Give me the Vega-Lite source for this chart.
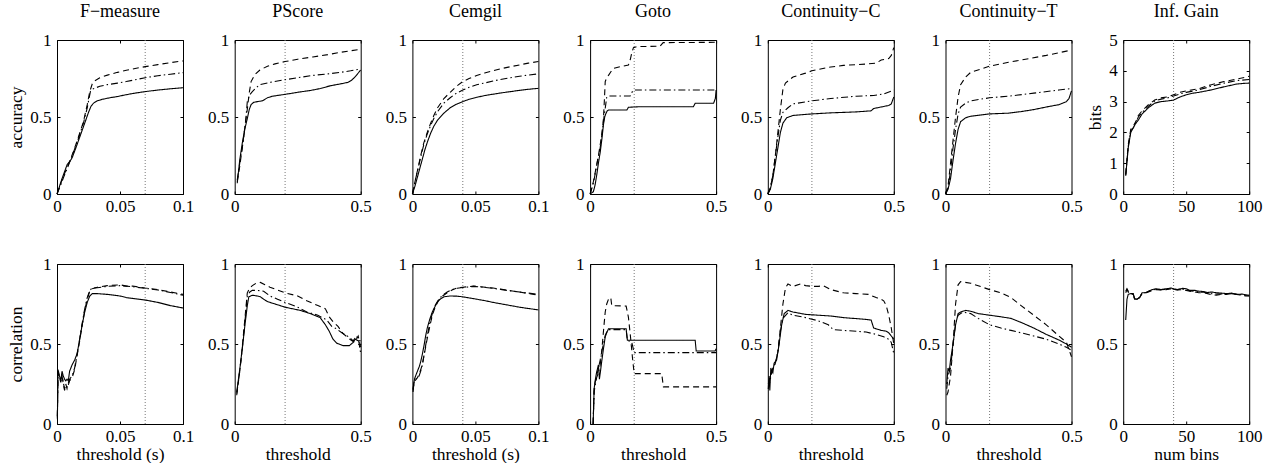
{
"$schema":"https://vega.github.io/schema/vega-lite/v6.json",
"padding":{"left":7,"top":2,"right":5,"bottom":0},
"config":{"font":"Liberation Serif","view":{"stroke":"black","strokeWidth":1},
"axis":{"domain":false,"grid":false,"tickColor":"black","tickSize":-3,"tickWidth":1,"labelFont":"Liberation Serif","labelFontSize":17,"labelColor":"black","labelFlush":false,"labelOverlap":false,"titleFont":"Liberation Serif","titleFontSize":17.5,"titleFontWeight":"normal","titleColor":"black"},
"axisX":{"labelPadding":7,"titlePadding":1},"axisY":{"labelPadding":9,"titlePadding":4},
"title":{"font":"Liberation Serif","fontSize":18,"fontWeight":"normal","color":"black","offset":10}},
"datasets":{"curves":[
{"panel":"fm_acc","series":"s1","x":0,"y":0},{"panel":"fm_acc","series":"s1","x":0.004,"y":0.1},{"panel":"fm_acc","series":"s1","x":0.008,"y":0.19},{"panel":"fm_acc","series":"s1","x":0.01,"y":0.21},{"panel":"fm_acc","series":"s1","x":0.012,"y":0.235},{"panel":"fm_acc","series":"s1","x":0.015,"y":0.3},{"panel":"fm_acc","series":"s1","x":0.0185,"y":0.38},{"panel":"fm_acc","series":"s1","x":0.022,"y":0.46},{"panel":"fm_acc","series":"s1","x":0.025,"y":0.53},{"panel":"fm_acc","series":"s1","x":0.027,"y":0.57},{"panel":"fm_acc","series":"s1","x":0.029,"y":0.59},{"panel":"fm_acc","series":"s1","x":0.032,"y":0.605},{"panel":"fm_acc","series":"s1","x":0.036,"y":0.615},{"panel":"fm_acc","series":"s1","x":0.042,"y":0.625},{"panel":"fm_acc","series":"s1","x":0.048,"y":0.633},{"panel":"fm_acc","series":"s1","x":0.055,"y":0.645},{"panel":"fm_acc","series":"s1","x":0.062,"y":0.655},{"panel":"fm_acc","series":"s1","x":0.07,"y":0.665},{"panel":"fm_acc","series":"s1","x":0.08,"y":0.675},{"panel":"fm_acc","series":"s1","x":0.09,"y":0.683},{"panel":"fm_acc","series":"s1","x":0.1,"y":0.69},
{"panel":"fm_acc","series":"s2","x":0,"y":0},{"panel":"fm_acc","series":"s2","x":0.003,"y":0.07},{"panel":"fm_acc","series":"s2","x":0.0053,"y":0.12},{"panel":"fm_acc","series":"s2","x":0.009,"y":0.19},{"panel":"fm_acc","series":"s2","x":0.013,"y":0.275},{"panel":"fm_acc","series":"s2","x":0.017,"y":0.37},{"panel":"fm_acc","series":"s2","x":0.021,"y":0.47},{"panel":"fm_acc","series":"s2","x":0.024,"y":0.58},{"panel":"fm_acc","series":"s2","x":0.026,"y":0.665},{"panel":"fm_acc","series":"s2","x":0.028,"y":0.715},{"panel":"fm_acc","series":"s2","x":0.03,"y":0.735},{"panel":"fm_acc","series":"s2","x":0.034,"y":0.755},{"panel":"fm_acc","series":"s2","x":0.04,"y":0.772},{"panel":"fm_acc","series":"s2","x":0.048,"y":0.79},{"panel":"fm_acc","series":"s2","x":0.055,"y":0.803},{"panel":"fm_acc","series":"s2","x":0.062,"y":0.815},{"panel":"fm_acc","series":"s2","x":0.07,"y":0.827},{"panel":"fm_acc","series":"s2","x":0.08,"y":0.84},{"panel":"fm_acc","series":"s2","x":0.09,"y":0.853},{"panel":"fm_acc","series":"s2","x":0.1,"y":0.864},
{"panel":"fm_acc","series":"s3","x":0,"y":0},{"panel":"fm_acc","series":"s3","x":0.003,"y":0.06},{"panel":"fm_acc","series":"s3","x":0.0053,"y":0.11},{"panel":"fm_acc","series":"s3","x":0.009,"y":0.185},{"panel":"fm_acc","series":"s3","x":0.013,"y":0.27},{"panel":"fm_acc","series":"s3","x":0.017,"y":0.36},{"panel":"fm_acc","series":"s3","x":0.021,"y":0.46},{"panel":"fm_acc","series":"s3","x":0.024,"y":0.56},{"panel":"fm_acc","series":"s3","x":0.0265,"y":0.665},{"panel":"fm_acc","series":"s3","x":0.028,"y":0.68},{"panel":"fm_acc","series":"s3","x":0.031,"y":0.69},{"panel":"fm_acc","series":"s3","x":0.034,"y":0.7},{"panel":"fm_acc","series":"s3","x":0.04,"y":0.71},{"panel":"fm_acc","series":"s3","x":0.048,"y":0.72},{"panel":"fm_acc","series":"s3","x":0.055,"y":0.73},{"panel":"fm_acc","series":"s3","x":0.062,"y":0.742},{"panel":"fm_acc","series":"s3","x":0.07,"y":0.755},{"panel":"fm_acc","series":"s3","x":0.08,"y":0.768},{"panel":"fm_acc","series":"s3","x":0.09,"y":0.778},{"panel":"fm_acc","series":"s3","x":0.1,"y":0.788},

{"panel":"fm_cor","series":"s1","x":0.0003,"y":0.03},{"panel":"fm_cor","series":"s1","x":0.0008,"y":0.34},{"panel":"fm_cor","series":"s1","x":0.002,"y":0.3},{"panel":"fm_cor","series":"s1","x":0.003,"y":0.27},{"panel":"fm_cor","series":"s1","x":0.004,"y":0.33},{"panel":"fm_cor","series":"s1","x":0.005,"y":0.3},{"panel":"fm_cor","series":"s1","x":0.006,"y":0.28},{"panel":"fm_cor","series":"s1","x":0.007,"y":0.27},{"panel":"fm_cor","series":"s1","x":0.008,"y":0.28},{"panel":"fm_cor","series":"s1","x":0.009,"y":0.27},{"panel":"fm_cor","series":"s1","x":0.01,"y":0.33},{"panel":"fm_cor","series":"s1","x":0.012,"y":0.37},{"panel":"fm_cor","series":"s1","x":0.014,"y":0.4},{"panel":"fm_cor","series":"s1","x":0.016,"y":0.44},{"panel":"fm_cor","series":"s1","x":0.018,"y":0.53},{"panel":"fm_cor","series":"s1","x":0.02,"y":0.62},{"panel":"fm_cor","series":"s1","x":0.022,"y":0.7},{"panel":"fm_cor","series":"s1","x":0.024,"y":0.76},{"panel":"fm_cor","series":"s1","x":0.026,"y":0.8},{"panel":"fm_cor","series":"s1","x":0.028,"y":0.815},{"panel":"fm_cor","series":"s1","x":0.032,"y":0.815},{"panel":"fm_cor","series":"s1","x":0.04,"y":0.81},{"panel":"fm_cor","series":"s1","x":0.05,"y":0.8},{"panel":"fm_cor","series":"s1","x":0.055,"y":0.79},{"panel":"fm_cor","series":"s1","x":0.06,"y":0.785},{"panel":"fm_cor","series":"s1","x":0.07,"y":0.775},{"panel":"fm_cor","series":"s1","x":0.08,"y":0.76},{"panel":"fm_cor","series":"s1","x":0.09,"y":0.74},{"panel":"fm_cor","series":"s1","x":0.1,"y":0.725},
{"panel":"fm_cor","series":"s2","x":0.0003,"y":0.05},{"panel":"fm_cor","series":"s2","x":0.0008,"y":0.32},{"panel":"fm_cor","series":"s2","x":0.002,"y":0.29},{"panel":"fm_cor","series":"s2","x":0.003,"y":0.26},{"panel":"fm_cor","series":"s2","x":0.004,"y":0.3},{"panel":"fm_cor","series":"s2","x":0.005,"y":0.25},{"panel":"fm_cor","series":"s2","x":0.006,"y":0.21},{"panel":"fm_cor","series":"s2","x":0.007,"y":0.25},{"panel":"fm_cor","series":"s2","x":0.008,"y":0.22},{"panel":"fm_cor","series":"s2","x":0.01,"y":0.27},{"panel":"fm_cor","series":"s2","x":0.012,"y":0.29},{"panel":"fm_cor","series":"s2","x":0.014,"y":0.34},{"panel":"fm_cor","series":"s2","x":0.016,"y":0.43},{"panel":"fm_cor","series":"s2","x":0.018,"y":0.52},{"panel":"fm_cor","series":"s2","x":0.02,"y":0.62},{"panel":"fm_cor","series":"s2","x":0.022,"y":0.71},{"panel":"fm_cor","series":"s2","x":0.024,"y":0.78},{"panel":"fm_cor","series":"s2","x":0.026,"y":0.83},{"panel":"fm_cor","series":"s2","x":0.028,"y":0.845},{"panel":"fm_cor","series":"s2","x":0.032,"y":0.855},{"panel":"fm_cor","series":"s2","x":0.04,"y":0.865},{"panel":"fm_cor","series":"s2","x":0.05,"y":0.87},{"panel":"fm_cor","series":"s2","x":0.055,"y":0.862},{"panel":"fm_cor","series":"s2","x":0.06,"y":0.862},{"panel":"fm_cor","series":"s2","x":0.07,"y":0.85},{"panel":"fm_cor","series":"s2","x":0.08,"y":0.84},{"panel":"fm_cor","series":"s2","x":0.09,"y":0.825},{"panel":"fm_cor","series":"s2","x":0.1,"y":0.81},
{"panel":"fm_cor","series":"s3","x":0.0003,"y":0.04},{"panel":"fm_cor","series":"s3","x":0.0008,"y":0.33},{"panel":"fm_cor","series":"s3","x":0.002,"y":0.29},{"panel":"fm_cor","series":"s3","x":0.003,"y":0.27},{"panel":"fm_cor","series":"s3","x":0.004,"y":0.31},{"panel":"fm_cor","series":"s3","x":0.005,"y":0.26},{"panel":"fm_cor","series":"s3","x":0.006,"y":0.22},{"panel":"fm_cor","series":"s3","x":0.007,"y":0.24},{"panel":"fm_cor","series":"s3","x":0.008,"y":0.23},{"panel":"fm_cor","series":"s3","x":0.01,"y":0.28},{"panel":"fm_cor","series":"s3","x":0.012,"y":0.3},{"panel":"fm_cor","series":"s3","x":0.014,"y":0.35},{"panel":"fm_cor","series":"s3","x":0.016,"y":0.44},{"panel":"fm_cor","series":"s3","x":0.018,"y":0.53},{"panel":"fm_cor","series":"s3","x":0.02,"y":0.63},{"panel":"fm_cor","series":"s3","x":0.022,"y":0.72},{"panel":"fm_cor","series":"s3","x":0.024,"y":0.79},{"panel":"fm_cor","series":"s3","x":0.026,"y":0.835},{"panel":"fm_cor","series":"s3","x":0.028,"y":0.85},{"panel":"fm_cor","series":"s3","x":0.032,"y":0.852},{"panel":"fm_cor","series":"s3","x":0.04,"y":0.86},{"panel":"fm_cor","series":"s3","x":0.05,"y":0.865},{"panel":"fm_cor","series":"s3","x":0.06,"y":0.858},{"panel":"fm_cor","series":"s3","x":0.07,"y":0.848},{"panel":"fm_cor","series":"s3","x":0.08,"y":0.838},{"panel":"fm_cor","series":"s3","x":0.09,"y":0.822},{"panel":"fm_cor","series":"s3","x":0.1,"y":0.805},

{"panel":"ps_acc","series":"s1","x":0.01,"y":0.07},{"panel":"ps_acc","series":"s1","x":0.02,"y":0.22},{"panel":"ps_acc","series":"s1","x":0.03,"y":0.33},{"panel":"ps_acc","series":"s1","x":0.04,"y":0.42},{"panel":"ps_acc","series":"s1","x":0.05,"y":0.49},{"panel":"ps_acc","series":"s1","x":0.058,"y":0.55},{"panel":"ps_acc","series":"s1","x":0.065,"y":0.58},{"panel":"ps_acc","series":"s1","x":0.075,"y":0.595},{"panel":"ps_acc","series":"s1","x":0.09,"y":0.6},{"panel":"ps_acc","series":"s1","x":0.11,"y":0.605},{"panel":"ps_acc","series":"s1","x":0.13,"y":0.625},{"panel":"ps_acc","series":"s1","x":0.15,"y":0.635},{"panel":"ps_acc","series":"s1","x":0.2,"y":0.647},{"panel":"ps_acc","series":"s1","x":0.26,"y":0.663},{"panel":"ps_acc","series":"s1","x":0.3,"y":0.672},{"panel":"ps_acc","series":"s1","x":0.34,"y":0.685},{"panel":"ps_acc","series":"s1","x":0.38,"y":0.703},{"panel":"ps_acc","series":"s1","x":0.42,"y":0.715},{"panel":"ps_acc","series":"s1","x":0.45,"y":0.725},{"panel":"ps_acc","series":"s1","x":0.465,"y":0.74},{"panel":"ps_acc","series":"s1","x":0.48,"y":0.765},{"panel":"ps_acc","series":"s1","x":0.5,"y":0.805},
{"panel":"ps_acc","series":"s2","x":0.01,"y":0.08},{"panel":"ps_acc","series":"s2","x":0.02,"y":0.18},{"panel":"ps_acc","series":"s2","x":0.03,"y":0.3},{"panel":"ps_acc","series":"s2","x":0.04,"y":0.43},{"panel":"ps_acc","series":"s2","x":0.05,"y":0.55},{"panel":"ps_acc","series":"s2","x":0.058,"y":0.66},{"panel":"ps_acc","series":"s2","x":0.065,"y":0.73},{"panel":"ps_acc","series":"s2","x":0.08,"y":0.775},{"panel":"ps_acc","series":"s2","x":0.1,"y":0.805},{"panel":"ps_acc","series":"s2","x":0.13,"y":0.83},{"panel":"ps_acc","series":"s2","x":0.16,"y":0.845},{"panel":"ps_acc","series":"s2","x":0.2,"y":0.86},{"panel":"ps_acc","series":"s2","x":0.25,"y":0.875},{"panel":"ps_acc","series":"s2","x":0.31,"y":0.89},{"panel":"ps_acc","series":"s2","x":0.37,"y":0.905},{"panel":"ps_acc","series":"s2","x":0.42,"y":0.92},{"panel":"ps_acc","series":"s2","x":0.46,"y":0.93},{"panel":"ps_acc","series":"s2","x":0.5,"y":0.94},
{"panel":"ps_acc","series":"s3","x":0.01,"y":0.09},{"panel":"ps_acc","series":"s3","x":0.02,"y":0.2},{"panel":"ps_acc","series":"s3","x":0.03,"y":0.3},{"panel":"ps_acc","series":"s3","x":0.037,"y":0.38},{"panel":"ps_acc","series":"s3","x":0.045,"y":0.5},{"panel":"ps_acc","series":"s3","x":0.05,"y":0.6},{"panel":"ps_acc","series":"s3","x":0.06,"y":0.645},{"panel":"ps_acc","series":"s3","x":0.07,"y":0.665},{"panel":"ps_acc","series":"s3","x":0.085,"y":0.69},{"panel":"ps_acc","series":"s3","x":0.1,"y":0.71},{"panel":"ps_acc","series":"s3","x":0.15,"y":0.728},{"panel":"ps_acc","series":"s3","x":0.2,"y":0.742},{"panel":"ps_acc","series":"s3","x":0.25,"y":0.755},{"panel":"ps_acc","series":"s3","x":0.31,"y":0.77},{"panel":"ps_acc","series":"s3","x":0.37,"y":0.78},{"panel":"ps_acc","series":"s3","x":0.42,"y":0.79},{"panel":"ps_acc","series":"s3","x":0.46,"y":0.8},{"panel":"ps_acc","series":"s3","x":0.5,"y":0.812},

{"panel":"ps_cor","series":"s1","x":0.008,"y":0.2},{"panel":"ps_cor","series":"s1","x":0.02,"y":0.34},{"panel":"ps_cor","series":"s1","x":0.03,"y":0.47},{"panel":"ps_cor","series":"s1","x":0.04,"y":0.61},{"panel":"ps_cor","series":"s1","x":0.05,"y":0.74},{"panel":"ps_cor","series":"s1","x":0.056,"y":0.795},{"panel":"ps_cor","series":"s1","x":0.07,"y":0.805},{"panel":"ps_cor","series":"s1","x":0.09,"y":0.8},{"panel":"ps_cor","series":"s1","x":0.102,"y":0.795},{"panel":"ps_cor","series":"s1","x":0.115,"y":0.78},{"panel":"ps_cor","series":"s1","x":0.13,"y":0.765},{"panel":"ps_cor","series":"s1","x":0.16,"y":0.75},{"panel":"ps_cor","series":"s1","x":0.2,"y":0.73},{"panel":"ps_cor","series":"s1","x":0.26,"y":0.71},{"panel":"ps_cor","series":"s1","x":0.3,"y":0.69},{"panel":"ps_cor","series":"s1","x":0.339,"y":0.665},{"panel":"ps_cor","series":"s1","x":0.36,"y":0.62},{"panel":"ps_cor","series":"s1","x":0.375,"y":0.58},{"panel":"ps_cor","series":"s1","x":0.39,"y":0.53},{"panel":"ps_cor","series":"s1","x":0.405,"y":0.505},{"panel":"ps_cor","series":"s1","x":0.43,"y":0.49},{"panel":"ps_cor","series":"s1","x":0.455,"y":0.49},{"panel":"ps_cor","series":"s1","x":0.47,"y":0.51},{"panel":"ps_cor","series":"s1","x":0.478,"y":0.53},{"panel":"ps_cor","series":"s1","x":0.49,"y":0.52},{"panel":"ps_cor","series":"s1","x":0.5,"y":0.52},
{"panel":"ps_cor","series":"s2","x":0.008,"y":0.18},{"panel":"ps_cor","series":"s2","x":0.02,"y":0.33},{"panel":"ps_cor","series":"s2","x":0.03,"y":0.48},{"panel":"ps_cor","series":"s2","x":0.04,"y":0.65},{"panel":"ps_cor","series":"s2","x":0.05,"y":0.82},{"panel":"ps_cor","series":"s2","x":0.06,"y":0.85},{"panel":"ps_cor","series":"s2","x":0.07,"y":0.865},{"panel":"ps_cor","series":"s2","x":0.085,"y":0.88},{"panel":"ps_cor","series":"s2","x":0.102,"y":0.885},{"panel":"ps_cor","series":"s2","x":0.12,"y":0.87},{"panel":"ps_cor","series":"s2","x":0.14,"y":0.855},{"panel":"ps_cor","series":"s2","x":0.2,"y":0.82},{"panel":"ps_cor","series":"s2","x":0.25,"y":0.8},{"panel":"ps_cor","series":"s2","x":0.286,"y":0.77},{"panel":"ps_cor","series":"s2","x":0.33,"y":0.74},{"panel":"ps_cor","series":"s2","x":0.36,"y":0.72},{"panel":"ps_cor","series":"s2","x":0.375,"y":0.67},{"panel":"ps_cor","series":"s2","x":0.39,"y":0.64},{"panel":"ps_cor","series":"s2","x":0.41,"y":0.61},{"panel":"ps_cor","series":"s2","x":0.43,"y":0.565},{"panel":"ps_cor","series":"s2","x":0.457,"y":0.53},{"panel":"ps_cor","series":"s2","x":0.475,"y":0.51},{"panel":"ps_cor","series":"s2","x":0.483,"y":0.53},{"panel":"ps_cor","series":"s2","x":0.49,"y":0.55},{"panel":"ps_cor","series":"s2","x":0.5,"y":0.48},
{"panel":"ps_cor","series":"s3","x":0.008,"y":0.19},{"panel":"ps_cor","series":"s3","x":0.02,"y":0.33},{"panel":"ps_cor","series":"s3","x":0.03,"y":0.47},{"panel":"ps_cor","series":"s3","x":0.04,"y":0.63},{"panel":"ps_cor","series":"s3","x":0.05,"y":0.8},{"panel":"ps_cor","series":"s3","x":0.06,"y":0.825},{"panel":"ps_cor","series":"s3","x":0.07,"y":0.835},{"panel":"ps_cor","series":"s3","x":0.09,"y":0.835},{"panel":"ps_cor","series":"s3","x":0.115,"y":0.83},{"panel":"ps_cor","series":"s3","x":0.14,"y":0.8},{"panel":"ps_cor","series":"s3","x":0.17,"y":0.78},{"panel":"ps_cor","series":"s3","x":0.2,"y":0.76},{"panel":"ps_cor","series":"s3","x":0.25,"y":0.73},{"panel":"ps_cor","series":"s3","x":0.286,"y":0.7},{"panel":"ps_cor","series":"s3","x":0.33,"y":0.68},{"panel":"ps_cor","series":"s3","x":0.365,"y":0.65},{"panel":"ps_cor","series":"s3","x":0.385,"y":0.61},{"panel":"ps_cor","series":"s3","x":0.404,"y":0.595},{"panel":"ps_cor","series":"s3","x":0.425,"y":0.57},{"panel":"ps_cor","series":"s3","x":0.443,"y":0.554},{"panel":"ps_cor","series":"s3","x":0.46,"y":0.535},{"panel":"ps_cor","series":"s3","x":0.47,"y":0.52},{"panel":"ps_cor","series":"s3","x":0.483,"y":0.55},{"panel":"ps_cor","series":"s3","x":0.492,"y":0.52},{"panel":"ps_cor","series":"s3","x":0.5,"y":0.44},

{"panel":"ce_acc","series":"s1","x":0,"y":0},{"panel":"ce_acc","series":"s1","x":0.002,"y":0.05},{"panel":"ce_acc","series":"s1","x":0.004,"y":0.11},{"panel":"ce_acc","series":"s1","x":0.006,"y":0.17},{"panel":"ce_acc","series":"s1","x":0.008,"y":0.23},{"panel":"ce_acc","series":"s1","x":0.01,"y":0.29},{"panel":"ce_acc","series":"s1","x":0.012,"y":0.34},{"panel":"ce_acc","series":"s1","x":0.0145,"y":0.395},{"panel":"ce_acc","series":"s1","x":0.017,"y":0.44},{"panel":"ce_acc","series":"s1","x":0.02,"y":0.48},{"panel":"ce_acc","series":"s1","x":0.025,"y":0.525},{"panel":"ce_acc","series":"s1","x":0.03,"y":0.56},{"panel":"ce_acc","series":"s1","x":0.035,"y":0.583},{"panel":"ce_acc","series":"s1","x":0.04,"y":0.6},{"panel":"ce_acc","series":"s1","x":0.045,"y":0.615},{"panel":"ce_acc","series":"s1","x":0.051,"y":0.628},{"panel":"ce_acc","series":"s1","x":0.058,"y":0.64},{"panel":"ce_acc","series":"s1","x":0.064,"y":0.648},{"panel":"ce_acc","series":"s1","x":0.071,"y":0.657},{"panel":"ce_acc","series":"s1","x":0.078,"y":0.665},{"panel":"ce_acc","series":"s1","x":0.085,"y":0.673},{"panel":"ce_acc","series":"s1","x":0.092,"y":0.68},{"panel":"ce_acc","series":"s1","x":0.1,"y":0.686},
{"panel":"ce_acc","series":"s2","x":0,"y":0},{"panel":"ce_acc","series":"s2","x":0.0026,"y":0.1},{"panel":"ce_acc","series":"s2","x":0.0045,"y":0.17},{"panel":"ce_acc","series":"s2","x":0.0066,"y":0.25},{"panel":"ce_acc","series":"s2","x":0.009,"y":0.33},{"panel":"ce_acc","series":"s2","x":0.0118,"y":0.4},{"panel":"ce_acc","series":"s2","x":0.0145,"y":0.46},{"panel":"ce_acc","series":"s2","x":0.017,"y":0.51},{"panel":"ce_acc","series":"s2","x":0.02,"y":0.56},{"panel":"ce_acc","series":"s2","x":0.025,"y":0.62},{"panel":"ce_acc","series":"s2","x":0.03,"y":0.66},{"panel":"ce_acc","series":"s2","x":0.035,"y":0.7},{"panel":"ce_acc","series":"s2","x":0.04,"y":0.73},{"panel":"ce_acc","series":"s2","x":0.045,"y":0.75},{"panel":"ce_acc","series":"s2","x":0.051,"y":0.77},{"panel":"ce_acc","series":"s2","x":0.058,"y":0.787},{"panel":"ce_acc","series":"s2","x":0.064,"y":0.8},{"panel":"ce_acc","series":"s2","x":0.071,"y":0.815},{"panel":"ce_acc","series":"s2","x":0.078,"y":0.827},{"panel":"ce_acc","series":"s2","x":0.085,"y":0.838},{"panel":"ce_acc","series":"s2","x":0.092,"y":0.85},{"panel":"ce_acc","series":"s2","x":0.1,"y":0.86},
{"panel":"ce_acc","series":"s3","x":0,"y":0},{"panel":"ce_acc","series":"s3","x":0.0026,"y":0.1},{"panel":"ce_acc","series":"s3","x":0.0045,"y":0.165},{"panel":"ce_acc","series":"s3","x":0.0066,"y":0.24},{"panel":"ce_acc","series":"s3","x":0.009,"y":0.32},{"panel":"ce_acc","series":"s3","x":0.0118,"y":0.39},{"panel":"ce_acc","series":"s3","x":0.0145,"y":0.445},{"panel":"ce_acc","series":"s3","x":0.017,"y":0.49},{"panel":"ce_acc","series":"s3","x":0.02,"y":0.535},{"panel":"ce_acc","series":"s3","x":0.025,"y":0.59},{"panel":"ce_acc","series":"s3","x":0.03,"y":0.625},{"panel":"ce_acc","series":"s3","x":0.035,"y":0.655},{"panel":"ce_acc","series":"s3","x":0.04,"y":0.675},{"panel":"ce_acc","series":"s3","x":0.045,"y":0.693},{"panel":"ce_acc","series":"s3","x":0.051,"y":0.71},{"panel":"ce_acc","series":"s3","x":0.058,"y":0.722},{"panel":"ce_acc","series":"s3","x":0.064,"y":0.734},{"panel":"ce_acc","series":"s3","x":0.071,"y":0.745},{"panel":"ce_acc","series":"s3","x":0.078,"y":0.755},{"panel":"ce_acc","series":"s3","x":0.085,"y":0.765},{"panel":"ce_acc","series":"s3","x":0.092,"y":0.772},{"panel":"ce_acc","series":"s3","x":0.1,"y":0.78},

{"panel":"ce_cor","series":"s1","x":0.0005,"y":0.2},{"panel":"ce_cor","series":"s1","x":0.001,"y":0.25},{"panel":"ce_cor","series":"s1","x":0.0018,"y":0.285},{"panel":"ce_cor","series":"s1","x":0.003,"y":0.31},{"panel":"ce_cor","series":"s1","x":0.004,"y":0.33},{"panel":"ce_cor","series":"s1","x":0.0055,"y":0.36},{"panel":"ce_cor","series":"s1","x":0.0066,"y":0.39},{"panel":"ce_cor","series":"s1","x":0.008,"y":0.44},{"panel":"ce_cor","series":"s1","x":0.0092,"y":0.49},{"panel":"ce_cor","series":"s1","x":0.0105,"y":0.55},{"panel":"ce_cor","series":"s1","x":0.0118,"y":0.6},{"panel":"ce_cor","series":"s1","x":0.0138,"y":0.655},{"panel":"ce_cor","series":"s1","x":0.0158,"y":0.7},{"panel":"ce_cor","series":"s1","x":0.018,"y":0.735},{"panel":"ce_cor","series":"s1","x":0.02,"y":0.765},{"panel":"ce_cor","series":"s1","x":0.0225,"y":0.783},{"panel":"ce_cor","series":"s1","x":0.025,"y":0.795},{"panel":"ce_cor","series":"s1","x":0.03,"y":0.8},{"panel":"ce_cor","series":"s1","x":0.035,"y":0.799},{"panel":"ce_cor","series":"s1","x":0.04,"y":0.795},{"panel":"ce_cor","series":"s1","x":0.045,"y":0.788},{"panel":"ce_cor","series":"s1","x":0.051,"y":0.78},{"panel":"ce_cor","series":"s1","x":0.058,"y":0.77},{"panel":"ce_cor","series":"s1","x":0.064,"y":0.76},{"panel":"ce_cor","series":"s1","x":0.071,"y":0.75},{"panel":"ce_cor","series":"s1","x":0.078,"y":0.74},{"panel":"ce_cor","series":"s1","x":0.085,"y":0.73},{"panel":"ce_cor","series":"s1","x":0.092,"y":0.722},{"panel":"ce_cor","series":"s1","x":0.1,"y":0.713},
{"panel":"ce_cor","series":"s2","x":0.0005,"y":0.21},{"panel":"ce_cor","series":"s2","x":0.0015,"y":0.26},{"panel":"ce_cor","series":"s2","x":0.0026,"y":0.275},{"panel":"ce_cor","series":"s2","x":0.004,"y":0.29},{"panel":"ce_cor","series":"s2","x":0.0053,"y":0.31},{"panel":"ce_cor","series":"s2","x":0.0066,"y":0.34},{"panel":"ce_cor","series":"s2","x":0.0079,"y":0.37},{"panel":"ce_cor","series":"s2","x":0.009,"y":0.42},{"panel":"ce_cor","series":"s2","x":0.0105,"y":0.48},{"panel":"ce_cor","series":"s2","x":0.0118,"y":0.535},{"panel":"ce_cor","series":"s2","x":0.0138,"y":0.61},{"panel":"ce_cor","series":"s2","x":0.0158,"y":0.68},{"panel":"ce_cor","series":"s2","x":0.018,"y":0.73},{"panel":"ce_cor","series":"s2","x":0.021,"y":0.775},{"panel":"ce_cor","series":"s2","x":0.024,"y":0.8},{"panel":"ce_cor","series":"s2","x":0.0276,"y":0.82},{"panel":"ce_cor","series":"s2","x":0.0315,"y":0.838},{"panel":"ce_cor","series":"s2","x":0.0355,"y":0.85},{"panel":"ce_cor","series":"s2","x":0.04,"y":0.855},{"panel":"ce_cor","series":"s2","x":0.0487,"y":0.862},{"panel":"ce_cor","series":"s2","x":0.056,"y":0.856},{"panel":"ce_cor","series":"s2","x":0.064,"y":0.85},{"panel":"ce_cor","series":"s2","x":0.071,"y":0.842},{"panel":"ce_cor","series":"s2","x":0.078,"y":0.833},{"panel":"ce_cor","series":"s2","x":0.085,"y":0.825},{"panel":"ce_cor","series":"s2","x":0.092,"y":0.815},{"panel":"ce_cor","series":"s2","x":0.1,"y":0.806},
{"panel":"ce_cor","series":"s3","x":0.0005,"y":0.22},{"panel":"ce_cor","series":"s3","x":0.0015,"y":0.27},{"panel":"ce_cor","series":"s3","x":0.0026,"y":0.28},{"panel":"ce_cor","series":"s3","x":0.004,"y":0.29},{"panel":"ce_cor","series":"s3","x":0.0053,"y":0.3},{"panel":"ce_cor","series":"s3","x":0.0066,"y":0.33},{"panel":"ce_cor","series":"s3","x":0.0079,"y":0.37},{"panel":"ce_cor","series":"s3","x":0.009,"y":0.42},{"panel":"ce_cor","series":"s3","x":0.0105,"y":0.49},{"panel":"ce_cor","series":"s3","x":0.0118,"y":0.55},{"panel":"ce_cor","series":"s3","x":0.0138,"y":0.63},{"panel":"ce_cor","series":"s3","x":0.0158,"y":0.69},{"panel":"ce_cor","series":"s3","x":0.018,"y":0.74},{"panel":"ce_cor","series":"s3","x":0.021,"y":0.78},{"panel":"ce_cor","series":"s3","x":0.024,"y":0.805},{"panel":"ce_cor","series":"s3","x":0.0276,"y":0.825},{"panel":"ce_cor","series":"s3","x":0.0315,"y":0.84},{"panel":"ce_cor","series":"s3","x":0.0355,"y":0.848},{"panel":"ce_cor","series":"s3","x":0.04,"y":0.853},{"panel":"ce_cor","series":"s3","x":0.0487,"y":0.86},{"panel":"ce_cor","series":"s3","x":0.056,"y":0.855},{"panel":"ce_cor","series":"s3","x":0.064,"y":0.848},{"panel":"ce_cor","series":"s3","x":0.071,"y":0.84},{"panel":"ce_cor","series":"s3","x":0.078,"y":0.832},{"panel":"ce_cor","series":"s3","x":0.085,"y":0.825},{"panel":"ce_cor","series":"s3","x":0.092,"y":0.818},{"panel":"ce_cor","series":"s3","x":0.1,"y":0.81},

{"panel":"go_acc","series":"s1","x":0,"y":0},{"panel":"go_acc","series":"s1","x":0.013,"y":0.015},{"panel":"go_acc","series":"s1","x":0.02,"y":0.06},{"panel":"go_acc","series":"s1","x":0.026,"y":0.12},{"panel":"go_acc","series":"s1","x":0.033,"y":0.2},{"panel":"go_acc","series":"s1","x":0.04,"y":0.27},{"panel":"go_acc","series":"s1","x":0.047,"y":0.36},{"panel":"go_acc","series":"s1","x":0.053,"y":0.45},{"panel":"go_acc","series":"s1","x":0.058,"y":0.5},{"panel":"go_acc","series":"s1","x":0.062,"y":0.52},{"panel":"go_acc","series":"s1","x":0.068,"y":0.54},{"panel":"go_acc","series":"s1","x":0.073,"y":0.545},{"panel":"go_acc","series":"s1","x":0.146,"y":0.545},{"panel":"go_acc","series":"s1","x":0.152,"y":0.563},{"panel":"go_acc","series":"s1","x":0.198,"y":0.567},{"panel":"go_acc","series":"s1","x":0.41,"y":0.567},{"panel":"go_acc","series":"s1","x":0.417,"y":0.589},{"panel":"go_acc","series":"s1","x":0.49,"y":0.589},{"panel":"go_acc","series":"s1","x":0.497,"y":0.62},{"panel":"go_acc","series":"s1","x":0.5,"y":0.675},
{"panel":"go_acc","series":"s2","x":0,"y":0},{"panel":"go_acc","series":"s2","x":0.013,"y":0.08},{"panel":"go_acc","series":"s2","x":0.025,"y":0.18},{"panel":"go_acc","series":"s2","x":0.033,"y":0.25},{"panel":"go_acc","series":"s2","x":0.04,"y":0.32},{"panel":"go_acc","series":"s2","x":0.046,"y":0.38},{"panel":"go_acc","series":"s2","x":0.053,"y":0.49},{"panel":"go_acc","series":"s2","x":0.057,"y":0.62},{"panel":"go_acc","series":"s2","x":0.06,"y":0.73},{"panel":"go_acc","series":"s2","x":0.066,"y":0.755},{"panel":"go_acc","series":"s2","x":0.073,"y":0.77},{"panel":"go_acc","series":"s2","x":0.083,"y":0.795},{"panel":"go_acc","series":"s2","x":0.093,"y":0.816},{"panel":"go_acc","series":"s2","x":0.119,"y":0.827},{"panel":"go_acc","series":"s2","x":0.152,"y":0.837},{"panel":"go_acc","series":"s2","x":0.159,"y":0.87},{"panel":"go_acc","series":"s2","x":0.166,"y":0.92},{"panel":"go_acc","series":"s2","x":0.172,"y":0.95},{"panel":"go_acc","series":"s2","x":0.185,"y":0.957},{"panel":"go_acc","series":"s2","x":0.278,"y":0.96},{"panel":"go_acc","series":"s2","x":0.29,"y":0.983},{"panel":"go_acc","series":"s2","x":0.5,"y":0.985},
{"panel":"go_acc","series":"s3","x":0,"y":0},{"panel":"go_acc","series":"s3","x":0.013,"y":0.07},{"panel":"go_acc","series":"s3","x":0.02,"y":0.13},{"panel":"go_acc","series":"s3","x":0.03,"y":0.22},{"panel":"go_acc","series":"s3","x":0.04,"y":0.3},{"panel":"go_acc","series":"s3","x":0.048,"y":0.4},{"panel":"go_acc","series":"s3","x":0.056,"y":0.51},{"panel":"go_acc","series":"s3","x":0.062,"y":0.58},{"panel":"go_acc","series":"s3","x":0.066,"y":0.63},{"panel":"go_acc","series":"s3","x":0.073,"y":0.636},{"panel":"go_acc","series":"s3","x":0.159,"y":0.636},{"panel":"go_acc","series":"s3","x":0.166,"y":0.66},{"panel":"go_acc","series":"s3","x":0.172,"y":0.675},{"panel":"go_acc","series":"s3","x":0.5,"y":0.675},

{"panel":"go_cor","series":"s1","x":0.012,"y":0},{"panel":"go_cor","series":"s1","x":0.016,"y":0.22},{"panel":"go_cor","series":"s1","x":0.02,"y":0.27},{"panel":"go_cor","series":"s1","x":0.026,"y":0.325},{"panel":"go_cor","series":"s1","x":0.03,"y":0.35},{"panel":"go_cor","series":"s1","x":0.033,"y":0.37},{"panel":"go_cor","series":"s1","x":0.037,"y":0.28},{"panel":"go_cor","series":"s1","x":0.042,"y":0.34},{"panel":"go_cor","series":"s1","x":0.046,"y":0.39},{"panel":"go_cor","series":"s1","x":0.053,"y":0.47},{"panel":"go_cor","series":"s1","x":0.06,"y":0.545},{"panel":"go_cor","series":"s1","x":0.066,"y":0.57},{"panel":"go_cor","series":"s1","x":0.073,"y":0.595},{"panel":"go_cor","series":"s1","x":0.143,"y":0.595},{"panel":"go_cor","series":"s1","x":0.148,"y":0.523},{"panel":"go_cor","series":"s1","x":0.417,"y":0.523},{"panel":"go_cor","series":"s1","x":0.421,"y":0.456},{"panel":"go_cor","series":"s1","x":0.496,"y":0.456},{"panel":"go_cor","series":"s1","x":0.5,"y":0.47},
{"panel":"go_cor","series":"s2","x":0.012,"y":0},{"panel":"go_cor","series":"s2","x":0.016,"y":0.22},{"panel":"go_cor","series":"s2","x":0.02,"y":0.26},{"panel":"go_cor","series":"s2","x":0.026,"y":0.3},{"panel":"go_cor","series":"s2","x":0.033,"y":0.35},{"panel":"go_cor","series":"s2","x":0.04,"y":0.4},{"panel":"go_cor","series":"s2","x":0.046,"y":0.45},{"panel":"go_cor","series":"s2","x":0.053,"y":0.58},{"panel":"go_cor","series":"s2","x":0.06,"y":0.7},{"panel":"go_cor","series":"s2","x":0.066,"y":0.75},{"panel":"go_cor","series":"s2","x":0.073,"y":0.78},{"panel":"go_cor","series":"s2","x":0.082,"y":0.79},{"panel":"go_cor","series":"s2","x":0.086,"y":0.74},{"panel":"go_cor","series":"s2","x":0.143,"y":0.737},{"panel":"go_cor","series":"s2","x":0.148,"y":0.7},{"panel":"go_cor","series":"s2","x":0.152,"y":0.668},{"panel":"go_cor","series":"s2","x":0.16,"y":0.55},{"panel":"go_cor","series":"s2","x":0.169,"y":0.4},{"panel":"go_cor","series":"s2","x":0.175,"y":0.315},{"panel":"go_cor","series":"s2","x":0.284,"y":0.315},{"panel":"go_cor","series":"s2","x":0.291,"y":0.232},{"panel":"go_cor","series":"s2","x":0.5,"y":0.232},
{"panel":"go_cor","series":"s3","x":0.012,"y":0},{"panel":"go_cor","series":"s3","x":0.016,"y":0.2},{"panel":"go_cor","series":"s3","x":0.02,"y":0.24},{"panel":"go_cor","series":"s3","x":0.026,"y":0.29},{"panel":"go_cor","series":"s3","x":0.033,"y":0.32},{"panel":"go_cor","series":"s3","x":0.04,"y":0.37},{"panel":"go_cor","series":"s3","x":0.046,"y":0.45},{"panel":"go_cor","series":"s3","x":0.053,"y":0.5},{"panel":"go_cor","series":"s3","x":0.06,"y":0.554},{"panel":"go_cor","series":"s3","x":0.066,"y":0.575},{"panel":"go_cor","series":"s3","x":0.073,"y":0.59},{"panel":"go_cor","series":"s3","x":0.143,"y":0.59},{"panel":"go_cor","series":"s3","x":0.148,"y":0.523},{"panel":"go_cor","series":"s3","x":0.165,"y":0.512},{"panel":"go_cor","series":"s3","x":0.175,"y":0.446},{"panel":"go_cor","series":"s3","x":0.5,"y":0.446},

{"panel":"cc_acc","series":"s1","x":0,"y":0},{"panel":"cc_acc","series":"s1","x":0.01,"y":0.03},{"panel":"cc_acc","series":"s1","x":0.02,"y":0.1},{"panel":"cc_acc","series":"s1","x":0.03,"y":0.2},{"panel":"cc_acc","series":"s1","x":0.04,"y":0.3},{"panel":"cc_acc","series":"s1","x":0.05,"y":0.4},{"panel":"cc_acc","series":"s1","x":0.06,"y":0.46},{"panel":"cc_acc","series":"s1","x":0.075,"y":0.495},{"panel":"cc_acc","series":"s1","x":0.1,"y":0.51},{"panel":"cc_acc","series":"s1","x":0.175,"y":0.52},{"panel":"cc_acc","series":"s1","x":0.25,"y":0.527},{"panel":"cc_acc","series":"s1","x":0.35,"y":0.533},{"panel":"cc_acc","series":"s1","x":0.41,"y":0.54},{"panel":"cc_acc","series":"s1","x":0.42,"y":0.555},{"panel":"cc_acc","series":"s1","x":0.45,"y":0.565},{"panel":"cc_acc","series":"s1","x":0.48,"y":0.575},{"panel":"cc_acc","series":"s1","x":0.49,"y":0.585},{"panel":"cc_acc","series":"s1","x":0.5,"y":0.63},
{"panel":"cc_acc","series":"s2","x":0,"y":0},{"panel":"cc_acc","series":"s2","x":0.01,"y":0.04},{"panel":"cc_acc","series":"s2","x":0.02,"y":0.12},{"panel":"cc_acc","series":"s2","x":0.03,"y":0.25},{"panel":"cc_acc","series":"s2","x":0.04,"y":0.4},{"panel":"cc_acc","series":"s2","x":0.05,"y":0.55},{"panel":"cc_acc","series":"s2","x":0.06,"y":0.68},{"panel":"cc_acc","series":"s2","x":0.07,"y":0.72},{"panel":"cc_acc","series":"s2","x":0.1,"y":0.76},{"panel":"cc_acc","series":"s2","x":0.15,"y":0.785},{"panel":"cc_acc","series":"s2","x":0.175,"y":0.8},{"panel":"cc_acc","series":"s2","x":0.25,"y":0.825},{"panel":"cc_acc","series":"s2","x":0.3,"y":0.835},{"panel":"cc_acc","series":"s2","x":0.4,"y":0.845},{"panel":"cc_acc","series":"s2","x":0.43,"y":0.85},{"panel":"cc_acc","series":"s2","x":0.45,"y":0.87},{"panel":"cc_acc","series":"s2","x":0.48,"y":0.88},{"panel":"cc_acc","series":"s2","x":0.49,"y":0.9},{"panel":"cc_acc","series":"s2","x":0.5,"y":0.95},
{"panel":"cc_acc","series":"s3","x":0,"y":0},{"panel":"cc_acc","series":"s3","x":0.01,"y":0.04},{"panel":"cc_acc","series":"s3","x":0.02,"y":0.12},{"panel":"cc_acc","series":"s3","x":0.03,"y":0.25},{"panel":"cc_acc","series":"s3","x":0.04,"y":0.37},{"panel":"cc_acc","series":"s3","x":0.05,"y":0.48},{"panel":"cc_acc","series":"s3","x":0.06,"y":0.53},{"panel":"cc_acc","series":"s3","x":0.08,"y":0.56},{"panel":"cc_acc","series":"s3","x":0.1,"y":0.585},{"panel":"cc_acc","series":"s3","x":0.175,"y":0.605},{"panel":"cc_acc","series":"s3","x":0.25,"y":0.62},{"panel":"cc_acc","series":"s3","x":0.35,"y":0.635},{"panel":"cc_acc","series":"s3","x":0.42,"y":0.64},{"panel":"cc_acc","series":"s3","x":0.46,"y":0.65},{"panel":"cc_acc","series":"s3","x":0.5,"y":0.675},

{"panel":"cc_cor","series":"s1","x":0.002,"y":0.22},{"panel":"cc_cor","series":"s1","x":0.005,"y":0.3},{"panel":"cc_cor","series":"s1","x":0.008,"y":0.21},{"panel":"cc_cor","series":"s1","x":0.012,"y":0.35},{"panel":"cc_cor","series":"s1","x":0.016,"y":0.33},{"panel":"cc_cor","series":"s1","x":0.02,"y":0.32},{"panel":"cc_cor","series":"s1","x":0.025,"y":0.38},{"panel":"cc_cor","series":"s1","x":0.035,"y":0.4},{"panel":"cc_cor","series":"s1","x":0.045,"y":0.5},{"panel":"cc_cor","series":"s1","x":0.055,"y":0.62},{"panel":"cc_cor","series":"s1","x":0.065,"y":0.69},{"panel":"cc_cor","series":"s1","x":0.08,"y":0.71},{"panel":"cc_cor","series":"s1","x":0.1,"y":0.7},{"panel":"cc_cor","series":"s1","x":0.15,"y":0.685},{"panel":"cc_cor","series":"s1","x":0.2,"y":0.68},{"panel":"cc_cor","series":"s1","x":0.25,"y":0.675},{"panel":"cc_cor","series":"s1","x":0.3,"y":0.665},{"panel":"cc_cor","series":"s1","x":0.38,"y":0.655},{"panel":"cc_cor","series":"s1","x":0.41,"y":0.65},{"panel":"cc_cor","series":"s1","x":0.42,"y":0.6},{"panel":"cc_cor","series":"s1","x":0.45,"y":0.585},{"panel":"cc_cor","series":"s1","x":0.47,"y":0.58},{"panel":"cc_cor","series":"s1","x":0.48,"y":0.57},{"panel":"cc_cor","series":"s1","x":0.49,"y":0.55},{"panel":"cc_cor","series":"s1","x":0.5,"y":0.53},
{"panel":"cc_cor","series":"s2","x":0.002,"y":0.25},{"panel":"cc_cor","series":"s2","x":0.01,"y":0.3},{"panel":"cc_cor","series":"s2","x":0.02,"y":0.35},{"panel":"cc_cor","series":"s2","x":0.03,"y":0.38},{"panel":"cc_cor","series":"s2","x":0.04,"y":0.45},{"panel":"cc_cor","series":"s2","x":0.05,"y":0.6},{"panel":"cc_cor","series":"s2","x":0.06,"y":0.75},{"panel":"cc_cor","series":"s2","x":0.07,"y":0.85},{"panel":"cc_cor","series":"s2","x":0.08,"y":0.875},{"panel":"cc_cor","series":"s2","x":0.1,"y":0.86},{"panel":"cc_cor","series":"s2","x":0.13,"y":0.875},{"panel":"cc_cor","series":"s2","x":0.15,"y":0.865},{"panel":"cc_cor","series":"s2","x":0.175,"y":0.86},{"panel":"cc_cor","series":"s2","x":0.2,"y":0.86},{"panel":"cc_cor","series":"s2","x":0.22,"y":0.865},{"panel":"cc_cor","series":"s2","x":0.25,"y":0.84},{"panel":"cc_cor","series":"s2","x":0.3,"y":0.82},{"panel":"cc_cor","series":"s2","x":0.35,"y":0.815},{"panel":"cc_cor","series":"s2","x":0.4,"y":0.81},{"panel":"cc_cor","series":"s2","x":0.43,"y":0.79},{"panel":"cc_cor","series":"s2","x":0.45,"y":0.78},{"panel":"cc_cor","series":"s2","x":0.46,"y":0.77},{"panel":"cc_cor","series":"s2","x":0.47,"y":0.74},{"panel":"cc_cor","series":"s2","x":0.48,"y":0.68},{"panel":"cc_cor","series":"s2","x":0.49,"y":0.6},{"panel":"cc_cor","series":"s2","x":0.5,"y":0.5},
{"panel":"cc_cor","series":"s3","x":0.002,"y":0.22},{"panel":"cc_cor","series":"s3","x":0.01,"y":0.28},{"panel":"cc_cor","series":"s3","x":0.02,"y":0.35},{"panel":"cc_cor","series":"s3","x":0.03,"y":0.38},{"panel":"cc_cor","series":"s3","x":0.04,"y":0.45},{"panel":"cc_cor","series":"s3","x":0.05,"y":0.58},{"panel":"cc_cor","series":"s3","x":0.06,"y":0.66},{"panel":"cc_cor","series":"s3","x":0.08,"y":0.695},{"panel":"cc_cor","series":"s3","x":0.1,"y":0.68},{"panel":"cc_cor","series":"s3","x":0.15,"y":0.665},{"panel":"cc_cor","series":"s3","x":0.2,"y":0.645},{"panel":"cc_cor","series":"s3","x":0.24,"y":0.62},{"panel":"cc_cor","series":"s3","x":0.26,"y":0.59},{"panel":"cc_cor","series":"s3","x":0.3,"y":0.585},{"panel":"cc_cor","series":"s3","x":0.39,"y":0.575},{"panel":"cc_cor","series":"s3","x":0.43,"y":0.56},{"panel":"cc_cor","series":"s3","x":0.46,"y":0.545},{"panel":"cc_cor","series":"s3","x":0.48,"y":0.53},{"panel":"cc_cor","series":"s3","x":0.49,"y":0.51},{"panel":"cc_cor","series":"s3","x":0.5,"y":0.44},

{"panel":"ct_acc","series":"s1","x":0,"y":0},{"panel":"ct_acc","series":"s1","x":0.01,"y":0.03},{"panel":"ct_acc","series":"s1","x":0.02,"y":0.1},{"panel":"ct_acc","series":"s1","x":0.03,"y":0.22},{"panel":"ct_acc","series":"s1","x":0.04,"y":0.33},{"panel":"ct_acc","series":"s1","x":0.05,"y":0.42},{"panel":"ct_acc","series":"s1","x":0.06,"y":0.47},{"panel":"ct_acc","series":"s1","x":0.08,"y":0.495},{"panel":"ct_acc","series":"s1","x":0.1,"y":0.505},{"panel":"ct_acc","series":"s1","x":0.175,"y":0.52},{"panel":"ct_acc","series":"s1","x":0.25,"y":0.525},{"panel":"ct_acc","series":"s1","x":0.3,"y":0.535},{"panel":"ct_acc","series":"s1","x":0.35,"y":0.548},{"panel":"ct_acc","series":"s1","x":0.4,"y":0.565},{"panel":"ct_acc","series":"s1","x":0.45,"y":0.58},{"panel":"ct_acc","series":"s1","x":0.48,"y":0.6},{"panel":"ct_acc","series":"s1","x":0.49,"y":0.62},{"panel":"ct_acc","series":"s1","x":0.5,"y":0.67},
{"panel":"ct_acc","series":"s2","x":0,"y":0},{"panel":"ct_acc","series":"s2","x":0.01,"y":0.05},{"panel":"ct_acc","series":"s2","x":0.02,"y":0.2},{"panel":"ct_acc","series":"s2","x":0.03,"y":0.35},{"panel":"ct_acc","series":"s2","x":0.04,"y":0.5},{"panel":"ct_acc","series":"s2","x":0.05,"y":0.63},{"panel":"ct_acc","series":"s2","x":0.06,"y":0.71},{"panel":"ct_acc","series":"s2","x":0.08,"y":0.76},{"panel":"ct_acc","series":"s2","x":0.1,"y":0.79},{"panel":"ct_acc","series":"s2","x":0.175,"y":0.83},{"panel":"ct_acc","series":"s2","x":0.25,"y":0.855},{"panel":"ct_acc","series":"s2","x":0.3,"y":0.87},{"panel":"ct_acc","series":"s2","x":0.4,"y":0.9},{"panel":"ct_acc","series":"s2","x":0.5,"y":0.935},
{"panel":"ct_acc","series":"s3","x":0,"y":0},{"panel":"ct_acc","series":"s3","x":0.01,"y":0.04},{"panel":"ct_acc","series":"s3","x":0.02,"y":0.15},{"panel":"ct_acc","series":"s3","x":0.03,"y":0.3},{"panel":"ct_acc","series":"s3","x":0.04,"y":0.42},{"panel":"ct_acc","series":"s3","x":0.05,"y":0.52},{"panel":"ct_acc","series":"s3","x":0.06,"y":0.565},{"panel":"ct_acc","series":"s3","x":0.08,"y":0.59},{"panel":"ct_acc","series":"s3","x":0.1,"y":0.605},{"panel":"ct_acc","series":"s3","x":0.175,"y":0.625},{"panel":"ct_acc","series":"s3","x":0.25,"y":0.635},{"panel":"ct_acc","series":"s3","x":0.35,"y":0.655},{"panel":"ct_acc","series":"s3","x":0.45,"y":0.675},{"panel":"ct_acc","series":"s3","x":0.5,"y":0.685},

{"panel":"ct_cor","series":"s1","x":0.005,"y":0.25},{"panel":"ct_cor","series":"s1","x":0.01,"y":0.35},{"panel":"ct_cor","series":"s1","x":0.015,"y":0.33},{"panel":"ct_cor","series":"s1","x":0.02,"y":0.4},{"panel":"ct_cor","series":"s1","x":0.03,"y":0.5},{"panel":"ct_cor","series":"s1","x":0.04,"y":0.62},{"panel":"ct_cor","series":"s1","x":0.05,"y":0.69},{"panel":"ct_cor","series":"s1","x":0.06,"y":0.7},{"panel":"ct_cor","series":"s1","x":0.08,"y":0.71},{"panel":"ct_cor","series":"s1","x":0.1,"y":0.705},{"panel":"ct_cor","series":"s1","x":0.13,"y":0.69},{"panel":"ct_cor","series":"s1","x":0.175,"y":0.68},{"panel":"ct_cor","series":"s1","x":0.22,"y":0.67},{"panel":"ct_cor","series":"s1","x":0.26,"y":0.66},{"panel":"ct_cor","series":"s1","x":0.3,"y":0.635},{"panel":"ct_cor","series":"s1","x":0.35,"y":0.6},{"panel":"ct_cor","series":"s1","x":0.4,"y":0.56},{"panel":"ct_cor","series":"s1","x":0.45,"y":0.525},{"panel":"ct_cor","series":"s1","x":0.48,"y":0.5},{"panel":"ct_cor","series":"s1","x":0.5,"y":0.48},
{"panel":"ct_cor","series":"s2","x":0.005,"y":0.18},{"panel":"ct_cor","series":"s2","x":0.01,"y":0.2},{"panel":"ct_cor","series":"s2","x":0.02,"y":0.3},{"panel":"ct_cor","series":"s2","x":0.03,"y":0.5},{"panel":"ct_cor","series":"s2","x":0.04,"y":0.75},{"panel":"ct_cor","series":"s2","x":0.05,"y":0.87},{"panel":"ct_cor","series":"s2","x":0.06,"y":0.89},{"panel":"ct_cor","series":"s2","x":0.1,"y":0.88},{"panel":"ct_cor","series":"s2","x":0.175,"y":0.84},{"panel":"ct_cor","series":"s2","x":0.22,"y":0.82},{"panel":"ct_cor","series":"s2","x":0.26,"y":0.79},{"panel":"ct_cor","series":"s2","x":0.3,"y":0.74},{"panel":"ct_cor","series":"s2","x":0.35,"y":0.68},{"panel":"ct_cor","series":"s2","x":0.4,"y":0.62},{"panel":"ct_cor","series":"s2","x":0.45,"y":0.55},{"panel":"ct_cor","series":"s2","x":0.48,"y":0.51},{"panel":"ct_cor","series":"s2","x":0.5,"y":0.42},
{"panel":"ct_cor","series":"s3","x":0.005,"y":0.22},{"panel":"ct_cor","series":"s3","x":0.01,"y":0.3},{"panel":"ct_cor","series":"s3","x":0.02,"y":0.35},{"panel":"ct_cor","series":"s3","x":0.03,"y":0.5},{"panel":"ct_cor","series":"s3","x":0.04,"y":0.63},{"panel":"ct_cor","series":"s3","x":0.05,"y":0.68},{"panel":"ct_cor","series":"s3","x":0.07,"y":0.7},{"panel":"ct_cor","series":"s3","x":0.1,"y":0.69},{"panel":"ct_cor","series":"s3","x":0.13,"y":0.66},{"panel":"ct_cor","series":"s3","x":0.175,"y":0.62},{"panel":"ct_cor","series":"s3","x":0.22,"y":0.6},{"panel":"ct_cor","series":"s3","x":0.26,"y":0.585},{"panel":"ct_cor","series":"s3","x":0.3,"y":0.57},{"panel":"ct_cor","series":"s3","x":0.35,"y":0.55},{"panel":"ct_cor","series":"s3","x":0.4,"y":0.53},{"panel":"ct_cor","series":"s3","x":0.45,"y":0.5},{"panel":"ct_cor","series":"s3","x":0.48,"y":0.48},{"panel":"ct_cor","series":"s3","x":0.5,"y":0.46},

{"panel":"ig_acc","series":"s1","x":2,"y":0.6},{"panel":"ig_acc","series":"s1","x":4,"y":1.5},{"panel":"ig_acc","series":"s1","x":6,"y":2.0},{"panel":"ig_acc","series":"s1","x":8,"y":2.15},{"panel":"ig_acc","series":"s1","x":10,"y":2.3},{"panel":"ig_acc","series":"s1","x":12,"y":2.4},{"panel":"ig_acc","series":"s1","x":15,"y":2.6},{"panel":"ig_acc","series":"s1","x":20,"y":2.8},{"panel":"ig_acc","series":"s1","x":25,"y":2.95},{"panel":"ig_acc","series":"s1","x":30,"y":3.0},{"panel":"ig_acc","series":"s1","x":35,"y":3.02},{"panel":"ig_acc","series":"s1","x":40,"y":3.05},{"panel":"ig_acc","series":"s1","x":45,"y":3.15},{"panel":"ig_acc","series":"s1","x":50,"y":3.22},{"panel":"ig_acc","series":"s1","x":55,"y":3.27},{"panel":"ig_acc","series":"s1","x":60,"y":3.3},{"panel":"ig_acc","series":"s1","x":70,"y":3.38},{"panel":"ig_acc","series":"s1","x":80,"y":3.48},{"panel":"ig_acc","series":"s1","x":90,"y":3.57},{"panel":"ig_acc","series":"s1","x":95,"y":3.59},{"panel":"ig_acc","series":"s1","x":100,"y":3.6},
{"panel":"ig_acc","series":"s2","x":2,"y":0.65},{"panel":"ig_acc","series":"s2","x":4,"y":1.6},{"panel":"ig_acc","series":"s2","x":6,"y":2.1},{"panel":"ig_acc","series":"s2","x":8,"y":2.2},{"panel":"ig_acc","series":"s2","x":10,"y":2.35},{"panel":"ig_acc","series":"s2","x":12,"y":2.55},{"panel":"ig_acc","series":"s2","x":15,"y":2.7},{"panel":"ig_acc","series":"s2","x":20,"y":2.9},{"panel":"ig_acc","series":"s2","x":25,"y":3.05},{"panel":"ig_acc","series":"s2","x":30,"y":3.12},{"panel":"ig_acc","series":"s2","x":35,"y":3.15},{"panel":"ig_acc","series":"s2","x":40,"y":3.22},{"panel":"ig_acc","series":"s2","x":45,"y":3.3},{"panel":"ig_acc","series":"s2","x":50,"y":3.35},{"panel":"ig_acc","series":"s2","x":60,"y":3.42},{"panel":"ig_acc","series":"s2","x":70,"y":3.55},{"panel":"ig_acc","series":"s2","x":80,"y":3.65},{"panel":"ig_acc","series":"s2","x":90,"y":3.73},{"panel":"ig_acc","series":"s2","x":100,"y":3.82},
{"panel":"ig_acc","series":"s3","x":2,"y":0.6},{"panel":"ig_acc","series":"s3","x":4,"y":1.55},{"panel":"ig_acc","series":"s3","x":6,"y":2.05},{"panel":"ig_acc","series":"s3","x":8,"y":2.15},{"panel":"ig_acc","series":"s3","x":10,"y":2.3},{"panel":"ig_acc","series":"s3","x":12,"y":2.5},{"panel":"ig_acc","series":"s3","x":15,"y":2.65},{"panel":"ig_acc","series":"s3","x":20,"y":2.85},{"panel":"ig_acc","series":"s3","x":25,"y":3.02},{"panel":"ig_acc","series":"s3","x":30,"y":3.08},{"panel":"ig_acc","series":"s3","x":35,"y":3.12},{"panel":"ig_acc","series":"s3","x":40,"y":3.18},{"panel":"ig_acc","series":"s3","x":45,"y":3.25},{"panel":"ig_acc","series":"s3","x":50,"y":3.3},{"panel":"ig_acc","series":"s3","x":60,"y":3.38},{"panel":"ig_acc","series":"s3","x":70,"y":3.5},{"panel":"ig_acc","series":"s3","x":80,"y":3.6},{"panel":"ig_acc","series":"s3","x":90,"y":3.68},{"panel":"ig_acc","series":"s3","x":100,"y":3.72},

{"panel":"ig_cor","series":"s1","x":2,"y":0.65},{"panel":"ig_cor","series":"s1","x":3,"y":0.78},{"panel":"ig_cor","series":"s1","x":4,"y":0.81},{"panel":"ig_cor","series":"s1","x":6,"y":0.815},{"panel":"ig_cor","series":"s1","x":8,"y":0.815},{"panel":"ig_cor","series":"s1","x":9,"y":0.78},{"panel":"ig_cor","series":"s1","x":11,"y":0.78},{"panel":"ig_cor","series":"s1","x":13,"y":0.79},{"panel":"ig_cor","series":"s1","x":15,"y":0.82},{"panel":"ig_cor","series":"s1","x":18,"y":0.82},{"panel":"ig_cor","series":"s1","x":20,"y":0.83},{"panel":"ig_cor","series":"s1","x":23,"y":0.84},{"panel":"ig_cor","series":"s1","x":26,"y":0.845},{"panel":"ig_cor","series":"s1","x":30,"y":0.84},{"panel":"ig_cor","series":"s1","x":34,"y":0.845},{"panel":"ig_cor","series":"s1","x":38,"y":0.85},{"panel":"ig_cor","series":"s1","x":40,"y":0.845},{"panel":"ig_cor","series":"s1","x":43,"y":0.84},{"panel":"ig_cor","series":"s1","x":47,"y":0.848},{"panel":"ig_cor","series":"s1","x":50,"y":0.845},{"panel":"ig_cor","series":"s1","x":53,"y":0.835},{"panel":"ig_cor","series":"s1","x":57,"y":0.835},{"panel":"ig_cor","series":"s1","x":60,"y":0.83},{"panel":"ig_cor","series":"s1","x":64,"y":0.828},{"panel":"ig_cor","series":"s1","x":67,"y":0.822},{"panel":"ig_cor","series":"s1","x":70,"y":0.825},{"panel":"ig_cor","series":"s1","x":74,"y":0.82},{"panel":"ig_cor","series":"s1","x":78,"y":0.818},{"panel":"ig_cor","series":"s1","x":82,"y":0.815},{"panel":"ig_cor","series":"s1","x":86,"y":0.818},{"panel":"ig_cor","series":"s1","x":90,"y":0.81},{"panel":"ig_cor","series":"s1","x":94,"y":0.812},{"panel":"ig_cor","series":"s1","x":97,"y":0.808},{"panel":"ig_cor","series":"s1","x":100,"y":0.805},
{"panel":"ig_cor","series":"s2","x":2,"y":0.83},{"panel":"ig_cor","series":"s2","x":3,"y":0.845},{"panel":"ig_cor","series":"s2","x":4,"y":0.83},{"panel":"ig_cor","series":"s2","x":6,"y":0.815},{"panel":"ig_cor","series":"s2","x":8,"y":0.81},{"panel":"ig_cor","series":"s2","x":9,"y":0.785},{"panel":"ig_cor","series":"s2","x":11,"y":0.78},{"panel":"ig_cor","series":"s2","x":13,"y":0.79},{"panel":"ig_cor","series":"s2","x":15,"y":0.815},{"panel":"ig_cor","series":"s2","x":18,"y":0.82},{"panel":"ig_cor","series":"s2","x":20,"y":0.825},{"panel":"ig_cor","series":"s2","x":23,"y":0.835},{"panel":"ig_cor","series":"s2","x":26,"y":0.84},{"panel":"ig_cor","series":"s2","x":30,"y":0.838},{"panel":"ig_cor","series":"s2","x":34,"y":0.84},{"panel":"ig_cor","series":"s2","x":38,"y":0.845},{"panel":"ig_cor","series":"s2","x":40,"y":0.84},{"panel":"ig_cor","series":"s2","x":43,"y":0.838},{"panel":"ig_cor","series":"s2","x":47,"y":0.84},{"panel":"ig_cor","series":"s2","x":50,"y":0.835},{"panel":"ig_cor","series":"s2","x":53,"y":0.83},{"panel":"ig_cor","series":"s2","x":57,"y":0.825},{"panel":"ig_cor","series":"s2","x":60,"y":0.82},{"panel":"ig_cor","series":"s2","x":64,"y":0.82},{"panel":"ig_cor","series":"s2","x":67,"y":0.815},{"panel":"ig_cor","series":"s2","x":70,"y":0.808},{"panel":"ig_cor","series":"s2","x":74,"y":0.805},{"panel":"ig_cor","series":"s2","x":78,"y":0.81},{"panel":"ig_cor","series":"s2","x":82,"y":0.81},{"panel":"ig_cor","series":"s2","x":86,"y":0.815},{"panel":"ig_cor","series":"s2","x":90,"y":0.81},{"panel":"ig_cor","series":"s2","x":94,"y":0.805},{"panel":"ig_cor","series":"s2","x":97,"y":0.8},{"panel":"ig_cor","series":"s2","x":100,"y":0.8},
{"panel":"ig_cor","series":"s3","x":2,"y":0.82},{"panel":"ig_cor","series":"s3","x":3,"y":0.84},{"panel":"ig_cor","series":"s3","x":4,"y":0.825},{"panel":"ig_cor","series":"s3","x":6,"y":0.815},{"panel":"ig_cor","series":"s3","x":8,"y":0.812},{"panel":"ig_cor","series":"s3","x":9,"y":0.785},{"panel":"ig_cor","series":"s3","x":11,"y":0.78},{"panel":"ig_cor","series":"s3","x":13,"y":0.792},{"panel":"ig_cor","series":"s3","x":15,"y":0.818},{"panel":"ig_cor","series":"s3","x":18,"y":0.822},{"panel":"ig_cor","series":"s3","x":20,"y":0.828},{"panel":"ig_cor","series":"s3","x":23,"y":0.838},{"panel":"ig_cor","series":"s3","x":26,"y":0.842},{"panel":"ig_cor","series":"s3","x":30,"y":0.84},{"panel":"ig_cor","series":"s3","x":34,"y":0.842},{"panel":"ig_cor","series":"s3","x":38,"y":0.848},{"panel":"ig_cor","series":"s3","x":40,"y":0.842},{"panel":"ig_cor","series":"s3","x":43,"y":0.84},{"panel":"ig_cor","series":"s3","x":47,"y":0.842},{"panel":"ig_cor","series":"s3","x":50,"y":0.84},{"panel":"ig_cor","series":"s3","x":53,"y":0.832},{"panel":"ig_cor","series":"s3","x":57,"y":0.83},{"panel":"ig_cor","series":"s3","x":60,"y":0.825},{"panel":"ig_cor","series":"s3","x":64,"y":0.823},{"panel":"ig_cor","series":"s3","x":67,"y":0.818},{"panel":"ig_cor","series":"s3","x":70,"y":0.815},{"panel":"ig_cor","series":"s3","x":74,"y":0.812},{"panel":"ig_cor","series":"s3","x":78,"y":0.813},{"panel":"ig_cor","series":"s3","x":82,"y":0.812},{"panel":"ig_cor","series":"s3","x":86,"y":0.815},{"panel":"ig_cor","series":"s3","x":90,"y":0.81},{"panel":"ig_cor","series":"s3","x":94,"y":0.808},{"panel":"ig_cor","series":"s3","x":97,"y":0.803},{"panel":"ig_cor","series":"s3","x":100,"y":0.802}
]},
"columns":7,
"spacing":{"row":70,"column":51.7},
"bounds":"flush",
"concat":[
{"width":126,"height":154,"title":"F−measure","layer":[
{"data":{"values":[{"x":0.07}]},"mark":{"type":"rule","stroke":"#777","strokeDash":[1,2],"strokeWidth":1},"encoding":{"x":{"field":"x","type":"quantitative","scale":{"domain":[0,0.1]},"axis":{"orient":"top","labels":false,"title":null,"values":[0,0.05,0.1]}}}},
{"data":{"name":"curves"},"transform":[{"filter":"datum.panel === 'fm_acc'"}],"mark":{"type":"line","stroke":"black","strokeWidth":1.1},"encoding":{"x":{"field":"x","type":"quantitative","scale":{"domain":[0,0.1]},"axis":{"values":[0,0.05,0.1],"format":"~g","title":null}},"y":{"field":"y","type":"quantitative","scale":{"domain":[0,1]},"axis":{"values":[0,0.5,1],"format":"~g","title":"accuracy"}},"strokeDash":{"field":"series","type":"nominal","scale":{"domain":["s1","s2","s3"],"range":[[1,0],[6,4],[7,3,1.5,3]]},"legend":null}}},
{"data":{"values":[{"x":0.07}]},"mark":{"type":"point","opacity":0},"encoding":{"x":{"field":"x","type":"quantitative","scale":{"domain":[0,0.1]},"axis":null},"y":{"datum":0,"type":"quantitative","scale":{"domain":[0,1]},"axis":{"orient":"right","labels":false,"title":null,"values":[0,0.5,1]}}}}
],"resolve":{"axis":{"x":"independent","y":"independent"}}},
{"width":126,"height":154,"title":"PScore","layer":[
{"data":{"values":[{"x":0.2}]},"mark":{"type":"rule","stroke":"#777","strokeDash":[1,2],"strokeWidth":1},"encoding":{"x":{"field":"x","type":"quantitative","scale":{"domain":[0,0.5]},"axis":{"orient":"top","labels":false,"title":null,"values":[0,0.5]}}}},
{"data":{"name":"curves"},"transform":[{"filter":"datum.panel === 'ps_acc'"}],"mark":{"type":"line","stroke":"black","strokeWidth":1.1},"encoding":{"x":{"field":"x","type":"quantitative","scale":{"domain":[0,0.5]},"axis":{"values":[0,0.5],"format":"~g","title":null}},"y":{"field":"y","type":"quantitative","scale":{"domain":[0,1]},"axis":{"values":[0,0.5,1],"format":"~g","title":null}},"strokeDash":{"field":"series","type":"nominal","scale":{"domain":["s1","s2","s3"],"range":[[1,0],[6,4],[7,3,1.5,3]]},"legend":null}}},
{"data":{"values":[{"x":0.2}]},"mark":{"type":"point","opacity":0},"encoding":{"x":{"field":"x","type":"quantitative","scale":{"domain":[0,0.5]},"axis":null},"y":{"datum":0,"type":"quantitative","scale":{"domain":[0,1]},"axis":{"orient":"right","labels":false,"title":null,"values":[0,0.5,1]}}}}
],"resolve":{"axis":{"x":"independent","y":"independent"}}},
{"width":126,"height":154,"title":"Cemgil","layer":[
{"data":{"values":[{"x":0.04}]},"mark":{"type":"rule","stroke":"#777","strokeDash":[1,2],"strokeWidth":1},"encoding":{"x":{"field":"x","type":"quantitative","scale":{"domain":[0,0.1]},"axis":{"orient":"top","labels":false,"title":null,"values":[0,0.05,0.1]}}}},
{"data":{"name":"curves"},"transform":[{"filter":"datum.panel === 'ce_acc'"}],"mark":{"type":"line","stroke":"black","strokeWidth":1.1},"encoding":{"x":{"field":"x","type":"quantitative","scale":{"domain":[0,0.1]},"axis":{"values":[0,0.05,0.1],"format":"~g","title":null}},"y":{"field":"y","type":"quantitative","scale":{"domain":[0,1]},"axis":{"values":[0,0.5,1],"format":"~g","title":null}},"strokeDash":{"field":"series","type":"nominal","scale":{"domain":["s1","s2","s3"],"range":[[1,0],[6,4],[7,3,1.5,3]]},"legend":null}}},
{"data":{"values":[{"x":0.04}]},"mark":{"type":"point","opacity":0},"encoding":{"x":{"field":"x","type":"quantitative","scale":{"domain":[0,0.1]},"axis":null},"y":{"datum":0,"type":"quantitative","scale":{"domain":[0,1]},"axis":{"orient":"right","labels":false,"title":null,"values":[0,0.5,1]}}}}
],"resolve":{"axis":{"x":"independent","y":"independent"}}},
{"width":126,"height":154,"title":"Goto","layer":[
{"data":{"values":[{"x":0.175}]},"mark":{"type":"rule","stroke":"#777","strokeDash":[1,2],"strokeWidth":1},"encoding":{"x":{"field":"x","type":"quantitative","scale":{"domain":[0,0.5]},"axis":{"orient":"top","labels":false,"title":null,"values":[0,0.5]}}}},
{"data":{"name":"curves"},"transform":[{"filter":"datum.panel === 'go_acc'"}],"mark":{"type":"line","stroke":"black","strokeWidth":1.1},"encoding":{"x":{"field":"x","type":"quantitative","scale":{"domain":[0,0.5]},"axis":{"values":[0,0.5],"format":"~g","title":null}},"y":{"field":"y","type":"quantitative","scale":{"domain":[0,1]},"axis":{"values":[0,0.5,1],"format":"~g","title":null}},"strokeDash":{"field":"series","type":"nominal","scale":{"domain":["s1","s2","s3"],"range":[[1,0],[6,4],[7,3,1.5,3]]},"legend":null}}},
{"data":{"values":[{"x":0.175}]},"mark":{"type":"point","opacity":0},"encoding":{"x":{"field":"x","type":"quantitative","scale":{"domain":[0,0.5]},"axis":null},"y":{"datum":0,"type":"quantitative","scale":{"domain":[0,1]},"axis":{"orient":"right","labels":false,"title":null,"values":[0,0.5,1]}}}}
],"resolve":{"axis":{"x":"independent","y":"independent"}}},
{"width":126,"height":154,"title":"Continuity−C","layer":[
{"data":{"values":[{"x":0.175}]},"mark":{"type":"rule","stroke":"#777","strokeDash":[1,2],"strokeWidth":1},"encoding":{"x":{"field":"x","type":"quantitative","scale":{"domain":[0,0.5]},"axis":{"orient":"top","labels":false,"title":null,"values":[0,0.5]}}}},
{"data":{"name":"curves"},"transform":[{"filter":"datum.panel === 'cc_acc'"}],"mark":{"type":"line","stroke":"black","strokeWidth":1.1},"encoding":{"x":{"field":"x","type":"quantitative","scale":{"domain":[0,0.5]},"axis":{"values":[0,0.5],"format":"~g","title":null}},"y":{"field":"y","type":"quantitative","scale":{"domain":[0,1]},"axis":{"values":[0,0.5,1],"format":"~g","title":null}},"strokeDash":{"field":"series","type":"nominal","scale":{"domain":["s1","s2","s3"],"range":[[1,0],[6,4],[7,3,1.5,3]]},"legend":null}}},
{"data":{"values":[{"x":0.175}]},"mark":{"type":"point","opacity":0},"encoding":{"x":{"field":"x","type":"quantitative","scale":{"domain":[0,0.5]},"axis":null},"y":{"datum":0,"type":"quantitative","scale":{"domain":[0,1]},"axis":{"orient":"right","labels":false,"title":null,"values":[0,0.5,1]}}}}
],"resolve":{"axis":{"x":"independent","y":"independent"}}},
{"width":126,"height":154,"title":"Continuity−T","layer":[
{"data":{"values":[{"x":0.175}]},"mark":{"type":"rule","stroke":"#777","strokeDash":[1,2],"strokeWidth":1},"encoding":{"x":{"field":"x","type":"quantitative","scale":{"domain":[0,0.5]},"axis":{"orient":"top","labels":false,"title":null,"values":[0,0.5]}}}},
{"data":{"name":"curves"},"transform":[{"filter":"datum.panel === 'ct_acc'"}],"mark":{"type":"line","stroke":"black","strokeWidth":1.1},"encoding":{"x":{"field":"x","type":"quantitative","scale":{"domain":[0,0.5]},"axis":{"values":[0,0.5],"format":"~g","title":null}},"y":{"field":"y","type":"quantitative","scale":{"domain":[0,1]},"axis":{"values":[0,0.5,1],"format":"~g","title":null}},"strokeDash":{"field":"series","type":"nominal","scale":{"domain":["s1","s2","s3"],"range":[[1,0],[6,4],[7,3,1.5,3]]},"legend":null}}},
{"data":{"values":[{"x":0.175}]},"mark":{"type":"point","opacity":0},"encoding":{"x":{"field":"x","type":"quantitative","scale":{"domain":[0,0.5]},"axis":null},"y":{"datum":0,"type":"quantitative","scale":{"domain":[0,1]},"axis":{"orient":"right","labels":false,"title":null,"values":[0,0.5,1]}}}}
],"resolve":{"axis":{"x":"independent","y":"independent"}}},
{"width":126,"height":154,"title":"Inf. Gain","layer":[
{"data":{"values":[{"x":40}]},"mark":{"type":"rule","stroke":"#777","strokeDash":[1,2],"strokeWidth":1},"encoding":{"x":{"field":"x","type":"quantitative","scale":{"domain":[0,100]},"axis":{"orient":"top","labels":false,"title":null,"values":[0,50,100]}}}},
{"data":{"name":"curves"},"transform":[{"filter":"datum.panel === 'ig_acc'"}],"mark":{"type":"line","stroke":"black","strokeWidth":1.1},"encoding":{"x":{"field":"x","type":"quantitative","scale":{"domain":[0,100]},"axis":{"values":[0,50,100],"format":"d","title":null}},"y":{"field":"y","type":"quantitative","scale":{"domain":[0,5]},"axis":{"values":[0,1,2,3,4,5],"format":"d","title":"bits"}},"strokeDash":{"field":"series","type":"nominal","scale":{"domain":["s1","s2","s3"],"range":[[1,0],[6,4],[7,3,1.5,3]]},"legend":null}}},
{"data":{"values":[{"x":40}]},"mark":{"type":"point","opacity":0},"encoding":{"x":{"field":"x","type":"quantitative","scale":{"domain":[0,100]},"axis":null},"y":{"datum":0,"type":"quantitative","scale":{"domain":[0,5]},"axis":{"orient":"right","labels":false,"title":null,"values":[0,1,2,3,4,5]}}}}
],"resolve":{"axis":{"x":"independent","y":"independent"}}},

{"width":126,"height":160,"layer":[
{"data":{"values":[{"x":0.07}]},"mark":{"type":"rule","stroke":"#777","strokeDash":[1,2],"strokeWidth":1},"encoding":{"x":{"field":"x","type":"quantitative","scale":{"domain":[0,0.1]},"axis":{"orient":"top","labels":false,"title":null,"values":[0,0.05,0.1]}}}},
{"data":{"name":"curves"},"transform":[{"filter":"datum.panel === 'fm_cor'"}],"mark":{"type":"line","stroke":"black","strokeWidth":1.1},"encoding":{"x":{"field":"x","type":"quantitative","scale":{"domain":[0,0.1]},"axis":{"values":[0,0.05,0.1],"format":"~g","title":"threshold (s)"}},"y":{"field":"y","type":"quantitative","scale":{"domain":[0,1]},"axis":{"values":[0,0.5,1],"format":"~g","title":"correlation"}},"strokeDash":{"field":"series","type":"nominal","scale":{"domain":["s1","s2","s3"],"range":[[1,0],[6,4],[7,3,1.5,3]]},"legend":null}}},
{"data":{"values":[{"x":0.07}]},"mark":{"type":"point","opacity":0},"encoding":{"x":{"field":"x","type":"quantitative","scale":{"domain":[0,0.1]},"axis":null},"y":{"datum":0,"type":"quantitative","scale":{"domain":[0,1]},"axis":{"orient":"right","labels":false,"title":null,"values":[0,0.5,1]}}}}
],"resolve":{"axis":{"x":"independent","y":"independent"}}},
{"width":126,"height":160,"layer":[
{"data":{"values":[{"x":0.2}]},"mark":{"type":"rule","stroke":"#777","strokeDash":[1,2],"strokeWidth":1},"encoding":{"x":{"field":"x","type":"quantitative","scale":{"domain":[0,0.5]},"axis":{"orient":"top","labels":false,"title":null,"values":[0,0.5]}}}},
{"data":{"name":"curves"},"transform":[{"filter":"datum.panel === 'ps_cor'"}],"mark":{"type":"line","stroke":"black","strokeWidth":1.1},"encoding":{"x":{"field":"x","type":"quantitative","scale":{"domain":[0,0.5]},"axis":{"values":[0,0.5],"format":"~g","title":"threshold"}},"y":{"field":"y","type":"quantitative","scale":{"domain":[0,1]},"axis":{"values":[0,0.5,1],"format":"~g","title":null}},"strokeDash":{"field":"series","type":"nominal","scale":{"domain":["s1","s2","s3"],"range":[[1,0],[6,4],[7,3,1.5,3]]},"legend":null}}},
{"data":{"values":[{"x":0.2}]},"mark":{"type":"point","opacity":0},"encoding":{"x":{"field":"x","type":"quantitative","scale":{"domain":[0,0.5]},"axis":null},"y":{"datum":0,"type":"quantitative","scale":{"domain":[0,1]},"axis":{"orient":"right","labels":false,"title":null,"values":[0,0.5,1]}}}}
],"resolve":{"axis":{"x":"independent","y":"independent"}}},
{"width":126,"height":160,"layer":[
{"data":{"values":[{"x":0.04}]},"mark":{"type":"rule","stroke":"#777","strokeDash":[1,2],"strokeWidth":1},"encoding":{"x":{"field":"x","type":"quantitative","scale":{"domain":[0,0.1]},"axis":{"orient":"top","labels":false,"title":null,"values":[0,0.05,0.1]}}}},
{"data":{"name":"curves"},"transform":[{"filter":"datum.panel === 'ce_cor'"}],"mark":{"type":"line","stroke":"black","strokeWidth":1.1},"encoding":{"x":{"field":"x","type":"quantitative","scale":{"domain":[0,0.1]},"axis":{"values":[0,0.05,0.1],"format":"~g","title":"threshold (s)"}},"y":{"field":"y","type":"quantitative","scale":{"domain":[0,1]},"axis":{"values":[0,0.5,1],"format":"~g","title":null}},"strokeDash":{"field":"series","type":"nominal","scale":{"domain":["s1","s2","s3"],"range":[[1,0],[6,4],[7,3,1.5,3]]},"legend":null}}},
{"data":{"values":[{"x":0.04}]},"mark":{"type":"point","opacity":0},"encoding":{"x":{"field":"x","type":"quantitative","scale":{"domain":[0,0.1]},"axis":null},"y":{"datum":0,"type":"quantitative","scale":{"domain":[0,1]},"axis":{"orient":"right","labels":false,"title":null,"values":[0,0.5,1]}}}}
],"resolve":{"axis":{"x":"independent","y":"independent"}}},
{"width":126,"height":160,"layer":[
{"data":{"values":[{"x":0.175}]},"mark":{"type":"rule","stroke":"#777","strokeDash":[1,2],"strokeWidth":1},"encoding":{"x":{"field":"x","type":"quantitative","scale":{"domain":[0,0.5]},"axis":{"orient":"top","labels":false,"title":null,"values":[0,0.5]}}}},
{"data":{"name":"curves"},"transform":[{"filter":"datum.panel === 'go_cor'"}],"mark":{"type":"line","stroke":"black","strokeWidth":1.1},"encoding":{"x":{"field":"x","type":"quantitative","scale":{"domain":[0,0.5]},"axis":{"values":[0,0.5],"format":"~g","title":"threshold"}},"y":{"field":"y","type":"quantitative","scale":{"domain":[0,1]},"axis":{"values":[0,0.5,1],"format":"~g","title":null}},"strokeDash":{"field":"series","type":"nominal","scale":{"domain":["s1","s2","s3"],"range":[[1,0],[6,4],[7,3,1.5,3]]},"legend":null}}},
{"data":{"values":[{"x":0.175}]},"mark":{"type":"point","opacity":0},"encoding":{"x":{"field":"x","type":"quantitative","scale":{"domain":[0,0.5]},"axis":null},"y":{"datum":0,"type":"quantitative","scale":{"domain":[0,1]},"axis":{"orient":"right","labels":false,"title":null,"values":[0,0.5,1]}}}}
],"resolve":{"axis":{"x":"independent","y":"independent"}}},
{"width":126,"height":160,"layer":[
{"data":{"values":[{"x":0.175}]},"mark":{"type":"rule","stroke":"#777","strokeDash":[1,2],"strokeWidth":1},"encoding":{"x":{"field":"x","type":"quantitative","scale":{"domain":[0,0.5]},"axis":{"orient":"top","labels":false,"title":null,"values":[0,0.5]}}}},
{"data":{"name":"curves"},"transform":[{"filter":"datum.panel === 'cc_cor'"}],"mark":{"type":"line","stroke":"black","strokeWidth":1.1},"encoding":{"x":{"field":"x","type":"quantitative","scale":{"domain":[0,0.5]},"axis":{"values":[0,0.5],"format":"~g","title":"threshold"}},"y":{"field":"y","type":"quantitative","scale":{"domain":[0,1]},"axis":{"values":[0,0.5,1],"format":"~g","title":null}},"strokeDash":{"field":"series","type":"nominal","scale":{"domain":["s1","s2","s3"],"range":[[1,0],[6,4],[7,3,1.5,3]]},"legend":null}}},
{"data":{"values":[{"x":0.175}]},"mark":{"type":"point","opacity":0},"encoding":{"x":{"field":"x","type":"quantitative","scale":{"domain":[0,0.5]},"axis":null},"y":{"datum":0,"type":"quantitative","scale":{"domain":[0,1]},"axis":{"orient":"right","labels":false,"title":null,"values":[0,0.5,1]}}}}
],"resolve":{"axis":{"x":"independent","y":"independent"}}},
{"width":126,"height":160,"layer":[
{"data":{"values":[{"x":0.175}]},"mark":{"type":"rule","stroke":"#777","strokeDash":[1,2],"strokeWidth":1},"encoding":{"x":{"field":"x","type":"quantitative","scale":{"domain":[0,0.5]},"axis":{"orient":"top","labels":false,"title":null,"values":[0,0.5]}}}},
{"data":{"name":"curves"},"transform":[{"filter":"datum.panel === 'ct_cor'"}],"mark":{"type":"line","stroke":"black","strokeWidth":1.1},"encoding":{"x":{"field":"x","type":"quantitative","scale":{"domain":[0,0.5]},"axis":{"values":[0,0.5],"format":"~g","title":"threshold"}},"y":{"field":"y","type":"quantitative","scale":{"domain":[0,1]},"axis":{"values":[0,0.5,1],"format":"~g","title":null}},"strokeDash":{"field":"series","type":"nominal","scale":{"domain":["s1","s2","s3"],"range":[[1,0],[6,4],[7,3,1.5,3]]},"legend":null}}},
{"data":{"values":[{"x":0.175}]},"mark":{"type":"point","opacity":0},"encoding":{"x":{"field":"x","type":"quantitative","scale":{"domain":[0,0.5]},"axis":null},"y":{"datum":0,"type":"quantitative","scale":{"domain":[0,1]},"axis":{"orient":"right","labels":false,"title":null,"values":[0,0.5,1]}}}}
],"resolve":{"axis":{"x":"independent","y":"independent"}}},
{"width":126,"height":160,"layer":[
{"data":{"values":[{"x":40}]},"mark":{"type":"rule","stroke":"#777","strokeDash":[1,2],"strokeWidth":1},"encoding":{"x":{"field":"x","type":"quantitative","scale":{"domain":[0,100]},"axis":{"orient":"top","labels":false,"title":null,"values":[0,50,100]}}}},
{"data":{"name":"curves"},"transform":[{"filter":"datum.panel === 'ig_cor'"}],"mark":{"type":"line","stroke":"black","strokeWidth":1.1},"encoding":{"x":{"field":"x","type":"quantitative","scale":{"domain":[0,100]},"axis":{"values":[0,50,100],"format":"d","title":"num bins"}},"y":{"field":"y","type":"quantitative","scale":{"domain":[0,1]},"axis":{"values":[0,0.5,1],"format":"~g","title":null}},"strokeDash":{"field":"series","type":"nominal","scale":{"domain":["s1","s2","s3"],"range":[[1,0],[6,4],[7,3,1.5,3]]},"legend":null}}},
{"data":{"values":[{"x":40}]},"mark":{"type":"point","opacity":0},"encoding":{"x":{"field":"x","type":"quantitative","scale":{"domain":[0,100]},"axis":null},"y":{"datum":0,"type":"quantitative","scale":{"domain":[0,1]},"axis":{"orient":"right","labels":false,"title":null,"values":[0,0.5,1]}}}}
],"resolve":{"axis":{"x":"independent","y":"independent"}}}
]
}
